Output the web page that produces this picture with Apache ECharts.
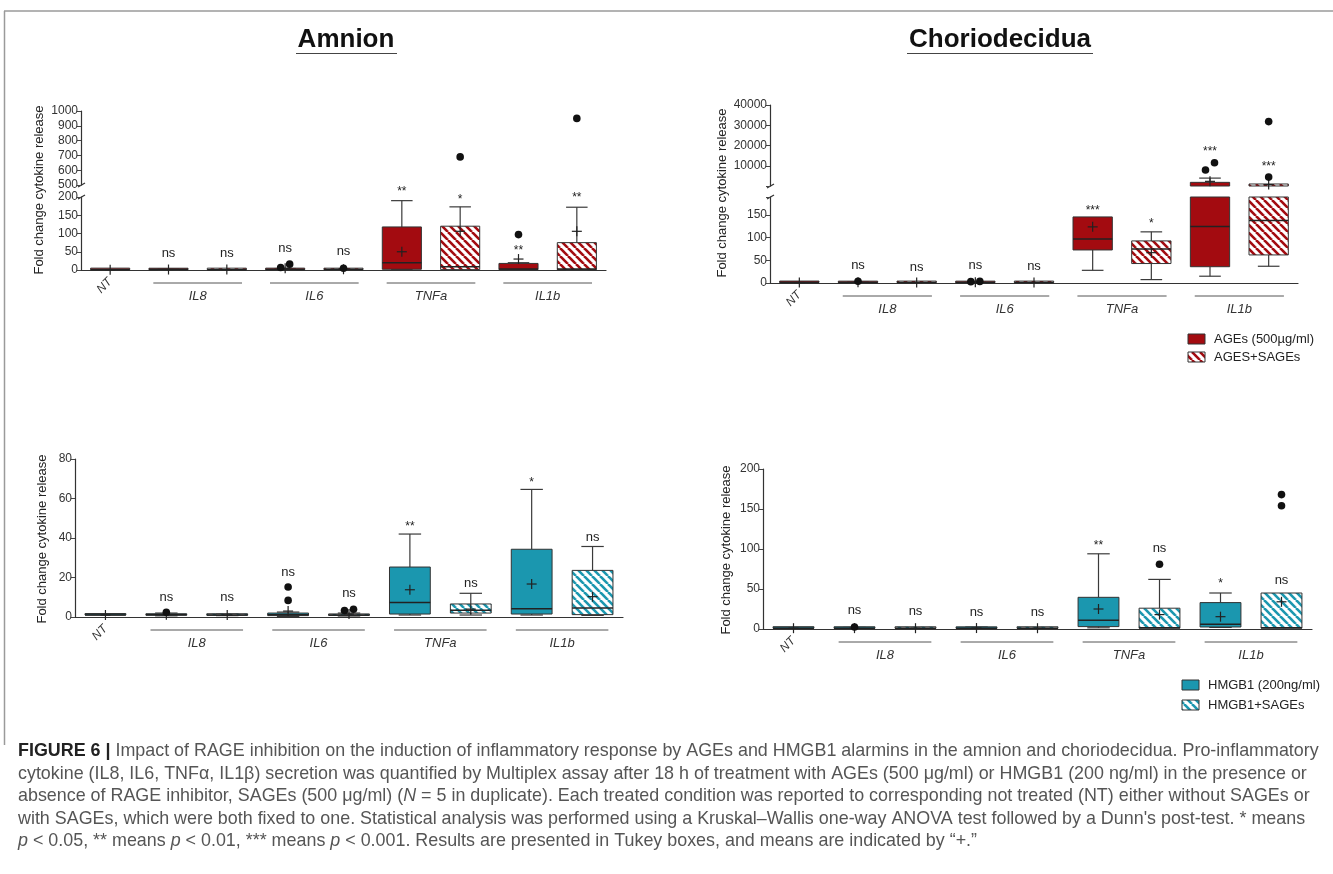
<!DOCTYPE html>
<html>
<head>
<meta charset="utf-8">
<script src="https://cdn.jsdelivr.net/npm/echarts@6/dist/echarts.min.js"></script>
<style>
html, body { margin: 0; padding: 0; background: #fff; }
#main { width: 1333px; height: 874px; }
</style>
</head>
<body>
<div id="main"></div>
<script>
// categories on every x axis
const categories = ['NT', 'IL8', 'IL8+SAGEs', 'IL6', 'IL6+SAGEs', 'TNFa', 'TNFa+SAGEs', 'IL1b', 'IL1b+SAGEs'];
const groups = [['IL8', 1, 2], ['IL6', 3, 4], ['TNFa', 5, 6], ['IL1b', 7, 8]];
const hatched = [false, false, true, false, true, false, true, false, true];

// Amnion + AGEs : [min, q1, median, q3, max]
const amnionAgesBox = [
  [1, 1, 1, 1, 1], [0.5, 0.8, 1.1, 1.8, 2.5], [0.6, 0.9, 1, 1.4, 2],
  [0.5, 1, 1.5, 3, 4], [0.5, 0.9, 1.3, 2.5, 3.5],
  [1, 2, 20, 118, 190], [0, 1, 9, 120, 173],
  [0.5, 1, 3, 18, 20], [0, 1, 3, 75, 172]
];
const amnionAgesMean = [1, 1.3, 1.1, 4.5, 2, 50, 106, 30, 106];
const amnionAgesOut = [[3, 7], [3, 16], [4, 5], [6, 690], [7, 97], [8, 950]];
const amnionAgesSig = ['', 'ns', 'ns', 'ns', 'ns', '**', '*', '**', '**'];
const amnionAgesSigAt = [0, 43, 43, 57, 49, 224, 200, 62, 206];

// Choriodecidua + AGEs
const chorioAgesBox = [
  [1, 1, 1, 1, 1], [0.5, 0.8, 1, 1.6, 2.5], [0.6, 0.9, 1, 1.3, 1.8],
  [0.5, 0.8, 1, 1.5, 2.2], [0.6, 0.9, 1, 1.3, 1.8],
  [28, 73, 97, 146, 146], [7.5, 43, 75, 93, 113],
  [15, 36, 125, 1800, 3900], [37, 62, 138, 1000, 1000]
];
const chorioAgesMean = [1, 1.4, 1, 1.6, 1, 124, 67, 2300, 700];
const chorioAgesOut = [[1, 4], [3, 3], [3, 3.5], [7, 7900], [7, 11500], [8, 4400], [8, 31800]];
const chorioAgesSig = ['', 'ns', 'ns', 'ns', 'ns', '***', '*', '***', '***'];
const chorioAgesSigAt = [0, 36, 32, 36, 34, 167, 137, 18200, 11000];

// Amnion + HMGB1
const amnionHmgbBox = [
  [1, 1, 1, 1, 1], [0.6, 0.9, 1.1, 1.5, 2], [0.7, 0.9, 1, 1.2, 1.5],
  [0.3, 0.7, 1.2, 2, 2.5], [0.5, 0.8, 1, 1.5, 2],
  [1, 1.5, 7.4, 25.3, 42], [1, 2, 3.4, 6.6, 12],
  [1, 1.5, 4.2, 34.3, 64.6], [0.8, 1.2, 4.5, 23.6, 35.7]
];
const amnionHmgbMean = [1, 1.2, 1, 3, 1.5, 13.8, 4, 16.7, 10.3];
const amnionHmgbOut = [[1, 2.4], [3, 8.4], [3, 15.2], [4, 3.3], [4, 3.9]];
const amnionHmgbSig = ['', 'ns', 'ns', 'ns', 'ns', '**', 'ns', '*', 'ns'];
const amnionHmgbSigAt = [0, 9.6, 9.6, 22, 11.3, 47, 16.5, 69.3, 40];

// Choriodecidua + HMGB1
const chorioHmgbBox = [
  [1, 1, 1, 1, 1], [0.6, 0.9, 1, 1.5, 2], [0.7, 0.9, 1, 1.2, 1.5],
  [0.5, 0.8, 1, 1.8, 2.5], [0.6, 0.9, 1, 1.3, 1.8],
  [1.5, 3, 11, 39.6, 94], [1, 1, 1.7, 26, 62],
  [2, 2.5, 6, 33, 45], [1, 1, 1.5, 45, 45]
];
const chorioHmgbMean = [1, 1.1, 1, 1.2, 1, 25, 18, 15.4, 34];
const chorioHmgbOut = [[1, 2.5], [6, 81], [8, 154], [8, 168]];
const chorioHmgbSig = ['', 'ns', 'ns', 'ns', 'ns', '**', 'ns', '*', 'ns'];
const chorioHmgbSigAt = [0, 21.7, 20.4, 19.6, 19.6, 108, 99.6, 61, 59];

const RED = '#a30b10';
const TEAL = '#1b97af';
const FONT = '"Liberation Sans", Arial, sans-serif';

const panels = [
  { color: RED, box: amnionAgesBox, mean: amnionAgesMean, out: amnionAgesOut, sig: amnionAgesSig, sigAt: amnionAgesSigAt,
    upper: { grid: { left: 81, top: 111, width: 525, height: 74 }, min: 500, max: 1000, interval: 100 },
    lower: { grid: { left: 81, top: 197, width: 525, height: 73 }, min: 0, max: 200, interval: 50 },
    yName: [39, 190] },
  { color: RED, box: chorioAgesBox, mean: chorioAgesMean, out: chorioAgesOut, sig: chorioAgesSig, sigAt: chorioAgesSigAt,
    upper: { grid: { left: 770, top: 105, width: 528, height: 81 }, min: 0, max: 40000, interval: 10000, hide: v => v === 0 },
    lower: { grid: { left: 770, top: 197, width: 528, height: 86 }, min: 0, max: 190, interval: 50, hide: v => v % 50 !== 0 },
    yName: [722, 193] },
  { color: TEAL, box: amnionHmgbBox, mean: amnionHmgbMean, out: amnionHmgbOut, sig: amnionHmgbSig, sigAt: amnionHmgbSigAt,
    lower: { grid: { left: 75, top: 459, width: 548, height: 158 }, min: 0, max: 80, interval: 20 },
    yName: [42, 539] },
  { color: TEAL, box: chorioHmgbBox, mean: chorioHmgbMean, out: chorioHmgbOut, sig: chorioHmgbSig, sigAt: chorioHmgbSigAt,
    lower: { grid: { left: 763, top: 469, width: 549, height: 160 }, min: 0, max: 200, interval: 50 },
    yName: [726, 550] }
];

function stripes(color) {
  const c = document.createElement('canvas');
  c.width = 8; c.height = 8;
  const g = c.getContext('2d');
  g.fillStyle = '#fff';
  g.fillRect(0, 0, 8, 8);
  g.strokeStyle = color;
  g.lineWidth = 2.6;
  [-8, 0, 8].forEach(o => {
    g.beginPath(); g.moveTo(o, 0); g.lineTo(o + 8, 8); g.stroke();
  });
  return c;
}

function boxRenderer(p, seg, isUpper) {
  const lowerMax = p.lower.max;
  const own = v => isUpper ? v > lowerMax : v <= lowerMax;
  const place = v => own(v) ? Math.min(seg.max, Math.max(seg.min, v)) : (isUpper ? seg.min : seg.max);
  return function (params, api) {
    const i = api.value(0);
    const mn = api.value(1), q1 = api.value(2), md = api.value(3), q3 = api.value(4), mx = api.value(5), mean = api.value(6);
    if (isUpper && mx <= lowerMax) return null;
    const band = api.size([1, 0])[0];
    const w = band * 0.67, cap = w * 0.55;
    const x = api.coord([i, 0])[0];
    const y = v => api.coord([i, place(v)])[1];
    const kids = [];
    const line = (x1, y1, x2, y2, lw, col) => kids.push({
      type: 'line', shape: { x1, y1, x2, y2 }, style: { stroke: col || '#3a3a3a', lineWidth: lw || 1.2 }
    });
    if (mx > q3 && (own(mx) || own(q3))) {
      line(x, y(q3), x, y(mx));
      if (own(mx)) line(x - cap / 2, y(mx), x + cap / 2, y(mx));
    }
    if (mn < q1 && (own(mn) || own(q1))) {
      line(x, y(mn), x, y(q1));
      if (own(mn)) line(x - cap / 2, y(mn), x + cap / 2, y(mn));
    }
    if (own(q3) || own(q1)) {
      const top = y(q3), bot = y(q1);
      const h = Math.max(bot - top, 1.5);
      kids.push({
        type: 'rect', shape: { x: x - w / 2, y: bot - h, width: w, height: h },
        style: { fill: hatched[i] ? p.pattern : p.color, stroke: '#333', lineWidth: 1 }
      });
    }
    if (own(md)) line(x - w / 2, y(md), x + w / 2, y(md), 1.5, '#222');
    if (own(mean)) {
      const ym = y(mean);
      line(x - 5, ym, x + 5, ym, 1.2, '#222');
      line(x, ym - 5, x, ym + 5, 1.2, '#222');
    }
    return { type: 'group', children: kids };
  };
}

function outRenderer(list) {
  return function (params, api) {
    const d = list[params.dataIndex];
    const pt = api.coord(d);
    const sib = list.filter(o => o[0] === d[0])
      .map(o => ({ v: o[1], y: api.coord(o)[1] }))
      .filter(o => Math.abs(o.y - pt[1]) < 9)
      .sort((a, b) => a.v - b.v);
    const k = sib.findIndex(o => o.v === d[1]);
    const dx = (k - (sib.length - 1) / 2) * 9;
    return { type: 'circle', shape: { cx: pt[0] + dx, cy: pt[1], r: 3.8 }, style: { fill: '#111' } };
  };
}

function sigRenderer(items) {
  return function (params, api) {
    const it = items[params.dataIndex];
    const pt = api.coord([it[0], it[1]]);
    const star = it[2].indexOf('*') >= 0;
    return {
      type: 'text', x: pt[0], y: pt[1] + (star ? 3 : -1),
      style: {
        text: it[2], font: (star ? '12px ' : '13px ') + FONT, fill: '#222',
        align: 'center', verticalAlign: 'middle', textAlign: 'center', textVerticalAlign: 'middle'
      }
    };
  };
}

const grids = [], xAxes = [], yAxes = [], series = [];
panels.forEach(p => {
  p.pattern = { image: stripes(p.color), repeat: 'repeat' };
  const segs = p.upper ? [[true, p.upper], [false, p.lower]] : [[false, p.lower]];
  const inUpper = v => !!p.upper && v > p.lower.max && v >= p.upper.min;
  segs.forEach(([isUpper, seg]) => {
    const gi = grids.length;
    seg.index = gi;
    grids.push(Object.assign({ containLabel: false, outerBoundsMode: 'none' }, seg.grid));
    xAxes.push({
      type: 'category', gridIndex: gi, data: categories, show: !isUpper, boundaryGap: true,
      axisLine: { lineStyle: { color: '#333', width: 1.2 } },
      axisTick: { alignWithLabel: true, length: 4, lineStyle: { color: '#444' } },
      axisLabel: {
        interval: 0, rotate: 45, margin: 10, fontSize: 12, fontStyle: 'italic', color: '#333', fontFamily: FONT,
        formatter: (v, i) => i === 0 ? v : ''
      },
      splitLine: { show: false }
    });
    yAxes.push({
      type: 'value', gridIndex: gi, min: seg.min, max: seg.max, interval: seg.interval,
      axisLine: { show: true, lineStyle: { color: '#333', width: 1.2 } },
      axisTick: { show: true, length: 4, lineStyle: { color: '#444' } },
      axisLabel: {
        fontSize: 12, color: '#333', margin: 3, fontFamily: FONT,
        formatter: v => (seg.hide && seg.hide(v)) ? '' : String(v)
      },
      splitLine: { show: false }
    });
    series.push({
      type: 'custom', xAxisIndex: gi, yAxisIndex: gi, clip: false, silent: true, z: 2,
      renderItem: boxRenderer(p, seg, isUpper),
      encode: { x: 0, y: [1, 2, 3, 4, 5, 6] },
      data: p.box.map((b, i) => [i, b[0], b[1], b[2], b[3], b[4], p.mean[i]])
    });
    const outs = p.out.filter(o => isUpper ? o[1] > p.lower.max : o[1] <= p.lower.max);
    series.push({
      type: 'custom', xAxisIndex: gi, yAxisIndex: gi, clip: false, silent: true, z: 3,
      renderItem: outRenderer(outs), encode: { x: 0, y: 1 }, data: outs
    });
    const sigs = p.sig.map((s, i) => [i, p.sigAt[i], s])
      .filter(d => d[2] && (isUpper ? inUpper(d[1]) : !inUpper(d[1])));
    series.push({
      type: 'custom', xAxisIndex: gi, yAxisIndex: gi, clip: false, silent: true, z: 3,
      renderItem: sigRenderer(sigs), encode: { x: 0, y: 1 }, data: sigs.map(d => [d[0], d[1]])
    });
  });
});

const chart = echarts.init(document.getElementById('main'));
chart.setOption({ animation: false, grid: grids, xAxis: xAxes, yAxis: yAxes, series: series });

// decorations that follow the axes
const txt = (x, y, text, font, fill, align, extra) => Object.assign({
  type: 'text', x, y,
  style: { text, font, fill: fill || '#222', align: align || 'center', verticalAlign: 'middle',
    textAlign: align || 'center', textVerticalAlign: 'middle' }
}, extra || {});
const ln = (x1, y1, x2, y2, stroke, lw) => ({ type: 'line', shape: { x1, y1, x2, y2 }, style: { stroke, lineWidth: lw } });

const graphic = [];
graphic.push(ln(4, 11, 1333, 11, '#9a9a9a', 1.5));
graphic.push(ln(4.5, 11, 4.5, 745, '#9a9a9a', 1.5));
graphic.push(txt(346, 40, 'Amnion', 'bold 26px ' + FONT, '#111'));
graphic.push(ln(296, 53.5, 397, 53.5, '#444', 1));
graphic.push(txt(1000, 40, 'Choriodecidua', 'bold 26px ' + FONT, '#111'));
graphic.push(ln(907, 53.5, 1093, 53.5, '#444', 1));

panels.forEach(p => {
  const gi = p.lower.index;
  const px = i => chart.convertToPixel({ xAxisIndex: gi }, i);
  const y0 = chart.convertToPixel({ yAxisIndex: gi }, p.lower.min);
  const band = px(1) - px(0);
  groups.forEach(([name, a, b]) => {
    const x1 = px(a) - band * 0.26, x2 = px(b) + band * 0.26;
    graphic.push(ln(x1, y0 + 13, x2, y0 + 13, '#555', 1));
    graphic.push(txt((x1 + x2) / 2, y0 + 26, name, 'italic 13px ' + FONT, '#333'));
  });
  graphic.push(txt(p.yName[0], p.yName[1], 'Fold change cytokine release', '13px ' + FONT, '#222', 'center', { rotation: Math.PI / 2 }));
  if (p.upper) {
    const xa = p.lower.grid.left;
    const yb = chart.convertToPixel({ yAxisIndex: p.upper.index }, p.upper.min);
    const yt = chart.convertToPixel({ yAxisIndex: gi }, p.lower.max);
    [yb, yt].forEach(yy => graphic.push(ln(xa - 3, yy + 2, xa + 4, yy - 2, '#333', 1.2)));
  }
});

// legends
const redPattern = { image: stripes(RED), repeat: 'repeat' };
const tealPattern = { image: stripes(TEAL), repeat: 'repeat' };
[[1188, 334, RED, 'AGEs (500µg/ml)'], [1188, 352, redPattern, 'AGES+SAGEs'],
 [1182, 680, TEAL, 'HMGB1 (200ng/ml)'], [1182, 700, tealPattern, 'HMGB1+SAGEs']].forEach(([x, y, fill, label]) => {
  graphic.push({ type: 'rect', shape: { x, y, width: 17, height: 10 }, style: { fill, stroke: '#333', lineWidth: 1 } });
  graphic.push(txt(x + 26, y + 5, label, '13px ' + FONT, '#222', 'left'));
});

// caption
const capLines = [
  ['FIGURE 6 |', ' Impact of RAGE inhibition on the induction of inflammatory response by AGEs and HMGB1 alarmins in the amnion and choriodecidua. Pro-inflammatory'],
  ['', 'cytokine (IL8, IL6, TNFα, IL1β) secretion was quantified by Multiplex assay after 18 h of treatment with AGEs (500 μg/ml) or HMGB1 (200 ng/ml) in the presence or'],
  ['', 'absence of RAGE inhibitor, SAGEs (500 μg/ml) ({i|N} = 5 in duplicate). Each treated condition was reported to corresponding not treated (NT) either without SAGEs or'],
  ['', 'with SAGEs, which were both fixed to one. Statistical analysis was performed using a Kruskal–Wallis one-way ANOVA test followed by a Dunn\'s post-test. * means'],
  ['', '{i|p} < 0.05, ** means {i|p} < 0.01, *** means {i|p} < 0.001. Results are presented in Tukey boxes, and means are indicated by “+.”']
];
const capY = [751, 774, 796, 819, 841];
const mctx = document.createElement('canvas').getContext('2d');
mctx.font = 'bold 16px ' + FONT;
let w1 = mctx.measureText(capLines[0][0]).width;
mctx.font = '16px ' + FONT;
w1 += mctx.measureText(capLines[0][1]).width;
const capSize = Math.round(16 * 1302 / w1 * 10) / 10;
capLines.forEach(([bold, rest], k) => {
  graphic.push({
    type: 'text', x: 18, y: capY[k],
    style: {
      text: (bold ? '{b|' + bold + '}' : '') + rest,
      font: capSize + 'px ' + FONT, fill: '#555', align: 'left', verticalAlign: 'middle',
      textAlign: 'left', textVerticalAlign: 'middle',
      rich: {
        b: { font: 'bold ' + capSize + 'px ' + FONT, fill: '#222', color: '#222' },
        i: { font: 'italic ' + capSize + 'px ' + FONT, fill: '#555', color: '#555' }
      }
    }
  });
});

chart.setOption({ graphic: graphic });
</script>
</body>
</html>
